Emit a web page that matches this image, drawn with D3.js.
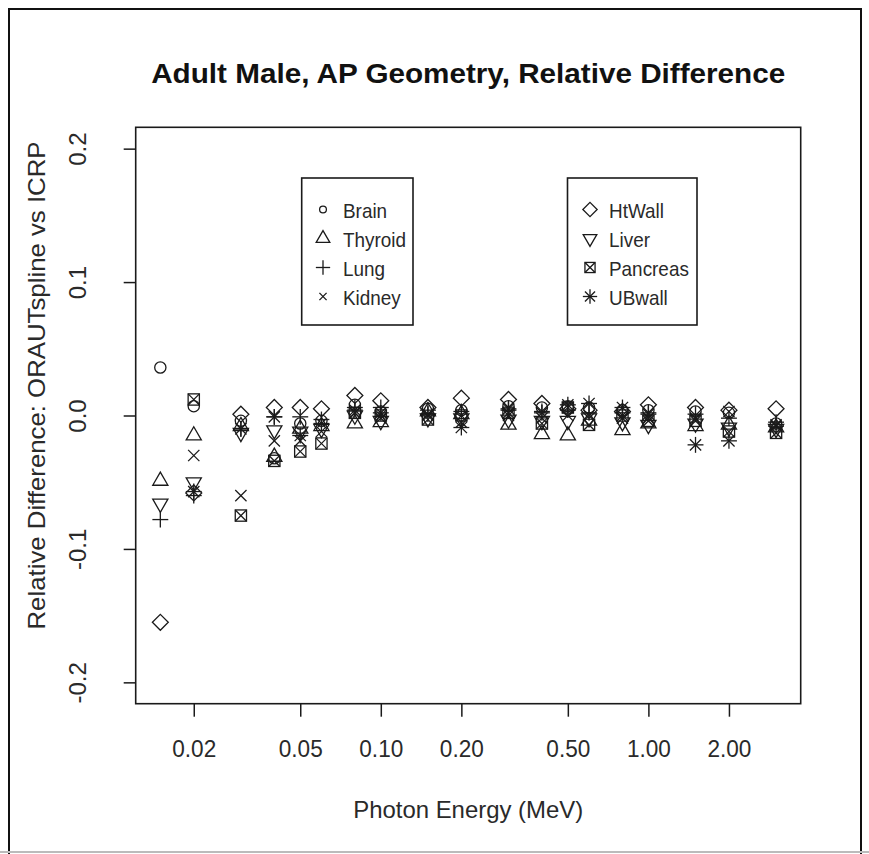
<!DOCTYPE html>
<html>
<head>
<meta charset="utf-8">
<script src="https://cdn.jsdelivr.net/npm/d3@7"></script>
<style>
  html, body { margin: 0; padding: 0; background: #fff; }
  svg { display: block; font-family: "Liberation Sans", Arial, sans-serif; }
</style>
</head>
<body>
<svg id="chart" width="869" height="854"></svg>
<script>
// ---------------- DATA ----------------
const energies = [0.015, 0.02, 0.03, 0.04, 0.05, 0.06, 0.08, 0.1, 0.15, 0.2, 0.3, 0.4, 0.5, 0.6, 0.8, 1.0, 1.5, 2.0, 3.0];

const brain    = [0.036, 0.007, -0.004, -0.032, -0.006, -0.004, 0.008, 0.003, 0.005, 0.004, 0.007, 0.006, 0.007, 0.006, 0.004, 0.004, 0.003, 0.002, -0.006];
const thyroid  = [-0.049, -0.015, -0.008, -0.031, -0.010, -0.008, -0.006, -0.005, 0.003, 0.001, -0.007, -0.014, -0.015, -0.004, -0.011, -0.006, -0.008, -0.007, -0.009];
const lung     = [-0.078, -0.060, -0.010, -0.001, -0.001, -0.003, 0.006, 0.006, 0.004, 0.003, 0.004, 0.003, 0.004, 0.002, 0.002, 0.002, 0.001, -0.002, -0.005];
const kidney   = [null, -0.030, -0.060, -0.019, -0.019, -0.012, 0.002, -0.002, 0.000, -0.005, 0.000, -0.002, 0.000, 0.000, -0.002, -0.002, -0.002, 0.003, -0.007];
const htwall   = [-0.155, -0.058, 0.001, 0.006, 0.006, 0.005, 0.015, 0.011, 0.006, 0.013, 0.012, 0.009, 0.005, 0.004, 0.003, 0.008, 0.006, 0.004, 0.005];
const liver    = [-0.066, -0.050, -0.013, -0.011, -0.012, -0.010, 0.000, -0.004, -0.002, -0.002, -0.003, -0.004, -0.004, -0.002, -0.005, -0.007, -0.006, -0.009, -0.010];
const pancreas = [null, 0.012, -0.075, -0.034, -0.027, -0.021, 0.002, 0.000, -0.003, 0.000, 0.002, -0.006, 0.006, -0.007, 0.000, -0.004, -0.004, -0.012, -0.013];
const ubwall   = [null, -0.057, -0.010, -0.001, -0.015, -0.006, 0.004, 0.002, 0.001, -0.009, 0.005, 0.002, 0.008, 0.009, 0.006, 0.001, -0.022, -0.019, -0.008];

const seriesNames = ["Brain", "Thyroid", "Lung", "Kidney", "HtWall", "Liver", "Pancreas", "UBwall"];
const seriesValues = [brain, thyroid, lung, kidney, htwall, liver, pancreas, ubwall];
const seriesShapes = ["circle", "triangle", "plus", "cross", "diamond", "triangleDown", "squareCross", "asterisk"];

const xTickValues = [0.02, 0.05, 0.10, 0.20, 0.50, 1.00, 2.00];
const xTickLabels = ["0.02", "0.05", "0.10", "0.20", "0.50", "1.00", "2.00"];
const yTickValues = [-0.2, -0.1, 0.0, 0.1, 0.2];
const yTickLabels = ["-0.2", "-0.1", "0.0", "0.1", "0.2"];

const titleText = "Adult Male, AP Geometry, Relative Difference";
const xLabelText = "Photon Energy (MeV)";
const yLabelText = "Relative Difference: ORAUTspline vs ICRP";

// ---------------- LAYOUT ----------------
const W = 869, H = 854;
const plot = { left: 135.7, right: 800.7, top: 127.3, bottom: 703.7 };
const ink = "#1a1a1a";
const textInk = "#2a2a2a";

const svg = d3.select("#chart");

// outer frame
svg.append("rect").attr("x", 0).attr("y", 0).attr("width", W).attr("height", H).attr("fill", "#fff");
svg.append("path")
  .attr("d", `M9,${H + 5} L9,9 L861,9 L861,${H + 5}`)
  .attr("fill", "none").attr("stroke", "#111").attr("stroke-width", 2);
svg.append("line").attr("x1", 0).attr("x2", W).attr("y1", 852).attr("y2", 852)
  .attr("stroke", "#bbb").attr("stroke-width", 2);

// scales (R style: 4% expansion on log range)
const lx0 = Math.log10(0.015), lx1 = Math.log10(3.0);
const pad = (lx1 - lx0) * 0.04;
const x = d3.scaleLog()
  .domain([Math.pow(10, lx0 - pad), Math.pow(10, lx1 + pad)])
  .range([plot.left, plot.right]);
const y = d3.scaleLinear()
  .domain([-0.216, 0.216])
  .range([plot.bottom, plot.top]);

// plot box
svg.append("rect")
  .attr("x", plot.left).attr("y", plot.top)
  .attr("width", plot.right - plot.left).attr("height", plot.bottom - plot.top)
  .attr("fill", "none").attr("stroke", ink).attr("stroke-width", 1.6);

// x axis
const xAxis = d3.axisBottom(x).tickValues(xTickValues)
  .tickFormat((d, i) => xTickLabels[i]).tickSize(13).tickSizeOuter(0);
const gx = svg.append("g").attr("transform", `translate(0,${plot.bottom})`).call(xAxis);
gx.select(".domain").remove();
gx.selectAll(".tick line").attr("stroke", ink).attr("stroke-width", 1.5);
gx.selectAll(".tick text")
  .attr("y", 0).attr("dy", 0)
  .attr("transform", "translate(0,53)")
  .attr("fill", textInk)
  .style("font-size", "24px")
  .attr("textLength", 44).attr("lengthAdjust", "spacingAndGlyphs");

// y axis
const yAxis = d3.axisLeft(y).tickValues(yTickValues)
  .tickFormat((d, i) => yTickLabels[i]).tickSize(12).tickSizeOuter(0);
const gy = svg.append("g").attr("transform", `translate(${plot.left},0)`).call(yAxis);
gy.select(".domain").remove();
gy.selectAll(".tick line").attr("stroke", ink).attr("stroke-width", 1.5);
gy.selectAll(".tick text")
  .attr("x", 0).attr("dy", 0)
  .attr("text-anchor", "middle")
  .attr("transform", "translate(-50,0) rotate(-90)")
  .attr("fill", textInk)
  .style("font-size", "24px");

// title
svg.append("text")
  .attr("x", (plot.left + plot.right) / 2).attr("y", 83)
  .attr("text-anchor", "middle")
  .attr("fill", "#111")
  .style("font-size", "28px").style("font-weight", "bold")
  .attr("textLength", 634).attr("lengthAdjust", "spacingAndGlyphs")
  .text(titleText);

// axis labels
svg.append("text")
  .attr("x", (plot.left + plot.right) / 2).attr("y", 818)
  .attr("text-anchor", "middle").attr("fill", textInk)
  .style("font-size", "24px")
  .attr("textLength", 230).attr("lengthAdjust", "spacingAndGlyphs")
  .text(xLabelText);

svg.append("text")
  .attr("transform", `translate(45,${(plot.top + plot.bottom) / 2 - 30}) rotate(-90)`)
  .attr("text-anchor", "middle").attr("fill", textInk)
  .style("font-size", "24px")
  .attr("textLength", 488).attr("lengthAdjust", "spacingAndGlyphs")
  .text(yLabelText);

// ---------------- SYMBOLS (R pch 1..8) ----------------
function drawSymbol(g, shape, cx, cy, s, opts) {
  opts = opts || {};
  const sw = opts.sw || 1.3;
  const xc = 0.375 * s;
  const st = el => el.attr("fill", "none").attr("stroke", ink).attr("stroke-width", sw);
  const line = (x1, y1, x2, y2) => st(g.append("line").attr("x1", cx + x1).attr("y1", cy + y1).attr("x2", cx + x2).attr("y2", cy + y2));
  if (shape === "circle") {
    st(g.append("circle").attr("cx", cx).attr("cy", cy).attr("r", opts.r || xc));
  } else if (shape === "triangle" || shape === "triangleDown") {
    const r = 1.5551203 * xc, yc = 0.7775602 * xc, hw = 1.3467736 * xc;
    const sg = shape === "triangle" ? 1 : -1;
    const pts = [[cx, cy - sg * r], [cx + hw, cy + sg * yc], [cx - hw, cy + sg * yc]];
    st(g.append("path").attr("d", d3.line()(pts) + "Z"));
  } else if (shape === "plus") {
    const h = Math.SQRT2 * xc;
    line(-h, 0, h, 0); line(0, -h, 0, h);
  } else if (shape === "cross") {
    const h = opts.crossHalf || xc;
    line(-h, -h, h, h); line(-h, h, h, -h);
  } else if (shape === "diamond") {
    const h = Math.SQRT2 * xc;
    st(g.append("path").attr("d", d3.line()([[cx, cy - h], [cx + h, cy], [cx, cy + h], [cx - h, cy]]) + "Z"));
  } else if (shape === "squareCross") {
    st(g.append("rect").attr("x", cx - xc).attr("y", cy - xc).attr("width", 2 * xc).attr("height", 2 * xc));
    line(-xc, -xc, xc, xc); line(-xc, xc, xc, -xc);
  } else if (shape === "asterisk") {
    line(-xc, -xc, xc, xc); line(-xc, xc, xc, -xc);
    const h = Math.SQRT2 * xc;
    line(-h, 0, h, 0); line(0, -h, 0, h);
  }
}

// points
const pts = svg.append("g").attr("class", "points");
seriesValues.forEach((vals, si) => {
  vals.forEach((v, i) => {
    if (v === null || v === undefined) return;
    drawSymbol(pts, seriesShapes[si], x(energies[i]), y(v), 15);
  });
});

// ---------------- LEGENDS ----------------
const legends = [
  { box: [301.7, 178, 413, 325], symX: 323, textX: 343, items: [0, 1, 2, 3] },
  { box: [567.5, 178, 697, 325], symX: 590, textX: 609, items: [4, 5, 6, 7] }
];
const rowBase = [217.5, 246.5, 275.5, 304.5];
legends.forEach(L => {
  const g = svg.append("g");
  g.append("rect").attr("x", L.box[0]).attr("y", L.box[1])
    .attr("width", L.box[2] - L.box[0]).attr("height", L.box[3] - L.box[1])
    .attr("fill", "none").attr("stroke", ink).attr("stroke-width", 1.6);
  L.items.forEach((si, k) => {
    const cy = rowBase[k] - 8;
    const opts = { r: 3.4, crossHalf: 3.6 };
    drawSymbol(g, seriesShapes[si], L.symX, cy, 13.5, opts);
    const t = g.append("text").attr("x", L.textX).attr("y", rowBase[k])
      .attr("fill", textInk).style("font-size", "21px")
      .text(seriesNames[si]);
    const w = t.node().getComputedTextLength();
    t.attr("textLength", w * 0.9).attr("lengthAdjust", "spacingAndGlyphs");
  });
});
</script>
</body>
</html>
